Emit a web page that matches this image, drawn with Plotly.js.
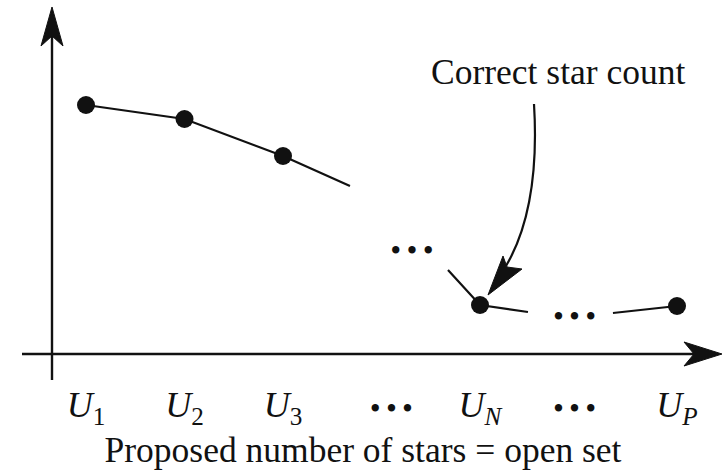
<!DOCTYPE html>
<html>
<head>
<meta charset="utf-8">
<script src="https://cdn.plot.ly/plotly-3.0.1.min.js"></script>
<style>
  html, body { margin: 0; padding: 0; background: #fff; }
  #chart { width: 726px; height: 473px; }
</style>
</head>
<body>
<div id="chart"></div>
<script>
// Proposed star counts (positions along the open set) and the score at each one
const pointX = [1, 2, 3, 5, 7];
const pointY = [249, 235, 198, 49, 48];

// Trend line through the points, broken where the sequence is elided
const trendX = [1, 2, 3, 3.68, null, 4.675, 5, 5.487, null, 6.35, 7];
const trendY = [249, 235, 198, 168, null, 84, 49, 42, null, 41, 48];

// Elision marks inside the plot
const gapX = [4.31, 5.96];
const gapY = [102, 36];

const SERIF = 'Liberation Serif';

// Tick positions and labels
const DOTS = '<b>•</b> <b>•</b> <b>•</b>';
const tickVals = [1, 2, 3, 4.1, 5, 5.96, 7];
const tickText = [
  '<i>U</i><sub>1</sub>',
  '<i>U</i><sub>2</sub>',
  '<i>U</i><sub>3</sub>',
  '<span style="font-size:27px">' + DOTS + '</span>',
  '<i>U</i><sub><i>N</i></sub>',
  '<span style="font-size:27px">' + DOTS + '</span>',
  '<i>U</i><sub><i>P</i></sub>'
];

const xTitle = 'Proposed number of stars = open set';
const calloutText = 'Correct star count';

const INK = '#111111';
const W = 726, H = 473, BOTTOM = 119;
const PLOT_H = H - BOTTOM;

// pixel position -> paper coordinates (plot area spans the full width)
const px = x => x / W;
const py = y => (PLOT_H - y) / PLOT_H;
const pt = (x, y) => px(x).toFixed(5) + ',' + py(y).toFixed(5);
const poly = pts => 'M' + pts.map(p => pt(p[0], p[1])).join('L') + 'Z';

const shapes = [
  // vertical axis
  { type: 'line', xref: 'paper', yref: 'paper',
    x0: px(52), y0: py(380), x1: px(52), y1: py(36),
    line: { color: INK, width: 2.4 } },
  // horizontal axis
  { type: 'line', xref: 'paper', yref: 'paper',
    x0: px(22), y0: py(354), x1: px(696), y1: py(354),
    line: { color: INK, width: 2.4 } },
  // arrowheads of the axes
  { type: 'path', xref: 'paper', yref: 'paper',
    path: poly([[52, 7], [41, 46], [52, 36], [63, 46]]),
    fillcolor: INK, line: { color: INK, width: 1 } },
  { type: 'path', xref: 'paper', yref: 'paper',
    path: poly([[722, 354], [684, 342], [694, 354], [684, 366]]),
    fillcolor: INK, line: { color: INK, width: 1 } },
  // curved pointer to the correct count
  { type: 'path', xref: 'paper', yref: 'paper',
    path: 'M' + pt(534, 104) + ' C' + pt(538, 170) + ' ' + pt(530, 225) + ' ' + pt(506, 266),
    line: { color: INK, width: 2.2 } },
  { type: 'path', xref: 'paper', yref: 'paper',
    path: poly([[488, 295], [503, 256], [507, 267], [522, 269]]),
    fillcolor: INK, line: { color: INK, width: 1 } }
];

const traces = [
  { x: trendX, y: trendY, mode: 'lines', connectgaps: false,
    line: { color: INK, width: 2.2 }, hoverinfo: 'skip', showlegend: false },
  { x: pointX, y: pointY, mode: 'markers',
    marker: { color: INK, size: 18 }, showlegend: false },
  { x: gapX, y: gapY, mode: 'text', text: [DOTS, DOTS],
    textfont: { family: SERIF, size: 27, color: INK },
    textposition: 'middle center', showlegend: false }
];

const layout = {
  width: W, height: H,
  margin: { l: 0, r: 0, t: 0, b: BOTTOM, pad: 0 },
  paper_bgcolor: '#fff', plot_bgcolor: '#fff',
  font: { family: SERIF, color: INK },
  showlegend: false,
  xaxis: {
    range: [1 - 86 / 98.5, 1 - 86 / 98.5 + W / 98.5],
    showgrid: false, zeroline: false, showline: false,
    ticks: '', tickvals: tickVals, ticktext: tickText,
    ticklabelstandoff: 26,
    tickfont: { family: SERIF, size: 36, color: INK },
    title: { text: xTitle, font: { family: SERIF, size: 35.5, color: INK }, standoff: 5 },
    fixedrange: true
  },
  yaxis: {
    range: [0, PLOT_H],
    showgrid: false, zeroline: false, showline: false,
    showticklabels: false, ticks: '', fixedrange: true
  },
  shapes: shapes,
  annotations: [
    { xref: 'paper', yref: 'paper', x: px(558), y: py(72),
      text: calloutText, showarrow: false,
      font: { family: SERIF, size: 35.5, color: INK },
      xanchor: 'center', yanchor: 'middle' }
  ]
};

Plotly.newPlot('chart', traces, layout, { displayModeBar: false, staticPlot: true });
</script>
</body>
</html>
